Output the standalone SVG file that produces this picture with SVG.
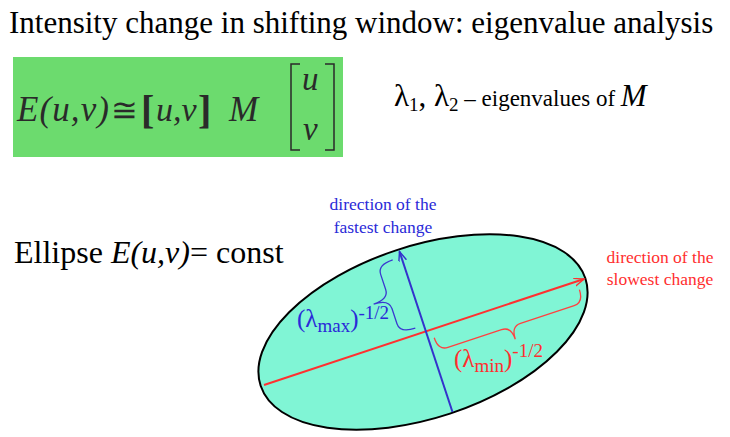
<svg xmlns="http://www.w3.org/2000/svg" width="730" height="437" viewBox="0 0 730 437">
<defs>
<style>
.serif{font-family:"Liberation Serif","Times New Roman",serif}
.it{font-style:italic}
.eq{font-family:"Liberation Serif","Times New Roman",serif;fill:#2a2a2a}
.blue{fill:#2a2ad8}
.red{fill:#ff2e2e}
.brace{fill:none;stroke-width:1.3}
</style>
<marker id="arrB" markerWidth="12" markerHeight="10" refX="10" refY="4" orient="auto" markerUnits="userSpaceOnUse">
<path d="M0,0 L10,4 L0,8" fill="none" stroke="#3030cc" stroke-width="1.4"/>
</marker>
<marker id="arrR" markerWidth="12" markerHeight="10" refX="10" refY="4" orient="auto" markerUnits="userSpaceOnUse">
<path d="M0,0 L10,4 L0,8" fill="none" stroke="#ff3030" stroke-width="1.4"/>
</marker>
</defs>
<rect width="730" height="437" fill="#ffffff"/>

<g id="title">
<text x="9" y="33" class="serif" font-size="31" fill="#000">Intensity change in shifting window: eigenvalue analysis</text>
</g>

<g id="equation">
<rect x="13" y="57" width="330" height="100" fill="#6cdb6e"/>
<text x="17" y="121" class="eq it" font-size="35" textLength="92" lengthAdjust="spacing">E(u,v)</text>
<text x="111" y="121" class="eq" font-size="32">≅</text>
<text x="141" y="123" class="eq" font-size="40" font-weight="bold">[</text>
<text x="156" y="121" class="eq it" font-size="34">u,v</text>
<text x="198" y="123" class="eq" font-size="40" font-weight="bold">]</text>
<text x="229" y="121" class="eq it" font-size="35">M</text>
<path d="M300,64 H291 V150 H300 M325,64 H334 V150 H325" fill="none" stroke="#2a2a2a" stroke-width="1.5"/>
<text x="302" y="90" class="eq it" font-size="33">u</text>
<text x="303" y="140" class="eq it" font-size="33">v</text>
</g>

<g id="eigen-label">
<text x="394" y="106" class="serif" font-size="31" fill="#000">λ<tspan font-size="19" dy="5">1</tspan><tspan dy="-5">, λ</tspan><tspan font-size="19" dy="5">2</tspan><tspan font-size="23" dy="-5"> – eigenvalues of </tspan><tspan class="it" font-size="31">M</tspan></text>
</g>

<g id="ellipse-label">
<text x="14" y="263" class="serif" font-size="32" fill="#000">Ellipse <tspan class="it">E(u,v)</tspan>= const</text>
</g>

<g id="ellipse">
<ellipse cx="423" cy="332" rx="171" ry="86" transform="rotate(-18.3 423 332)" fill="#80f5d5" stroke="#000" stroke-width="2"/>
</g>

<g id="connectors">
<line x1="264" y1="385" x2="584" y2="279" stroke="#ff3030" stroke-width="2" marker-end="url(#arrR)"/>
<line x1="452.5" y1="412" x2="399.5" y2="251.5" stroke="#3333cc" stroke-width="2" marker-end="url(#arrB)"/>
</g>

<g id="fastest-label">
<text x="383" y="210" text-anchor="middle" class="serif blue" font-size="17.5">direction of the</text>
<text x="383" y="232.5" text-anchor="middle" class="serif blue" font-size="17.5">fastest change</text>
</g>

<g id="slowest-label">
<text x="660" y="262.5" text-anchor="middle" class="serif red" font-size="17.5">direction of the</text>
<text x="660" y="285" text-anchor="middle" class="serif red" font-size="17.5">slowest change</text>
</g>

<g id="lambda-max">
<path class="brace" stroke="#3a3ad0" transform="matrix(-0.314 -0.949 -0.949 0.314 415.3 328.2)" d="M0,0 Q0,16 10,16 L26,16 Q36,16 36,32 Q36,16 46,16 L62,16 Q72,16 72,0"/>
<text x="297" y="327" class="serif blue" font-size="25">(λ<tspan font-size="19" dy="5">max</tspan><tspan font-size="25" dy="-5">)</tspan><tspan font-size="19" dy="-8">-1/2</tspan></text>
</g>

<g id="lambda-min">
<path class="brace" stroke="#ff4040" transform="matrix(0.949 -0.314 0.314 0.949 434.2 337.7)" d="M0,0 Q0,13.5 10,13.5 L66.5,13.5 Q76.5,13.5 76.5,27 Q76.5,13.5 86.5,13.5 L143,13.5 Q153,13.5 153,0"/>
<text x="454" y="367" class="serif red" font-size="25">(λ<tspan font-size="19" dy="5">min</tspan><tspan font-size="25" dy="-5">)</tspan><tspan font-size="19" dy="-10">-1/2</tspan></text>
</g>
</svg>
